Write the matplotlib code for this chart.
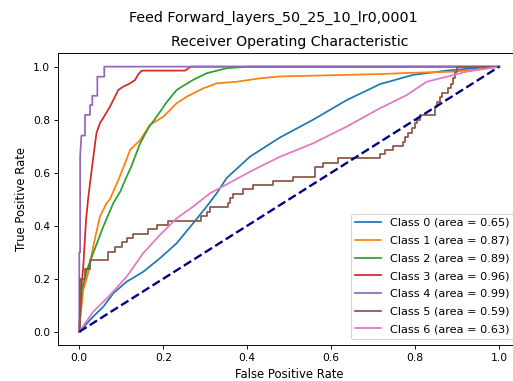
import matplotlib
matplotlib.use("Agg")
import matplotlib.pyplot as plt

# ROC points (false positive rate, true positive rate) per class
fpr_0 = [0.0, 0.033, 0.057, 0.081, 0.113, 0.152, 0.192, 0.232, 0.271, 0.303, 0.327, 0.351,
         0.406, 0.478, 0.557, 0.637, 0.716, 0.795, 0.875, 0.938, 1.0]
tpr_0 = [0.0, 0.057, 0.094, 0.145, 0.189, 0.226, 0.277, 0.334, 0.409, 0.472, 0.522, 0.580,
         0.660, 0.733, 0.800, 0.874, 0.934, 0.969, 0.985, 0.994, 1.0]

fpr_1 = [0.0, 0.002, 0.0095, 0.021, 0.033, 0.049, 0.065, 0.073, 0.093, 0.11, 0.121, 0.145,
         0.168, 0.2, 0.232, 0.256, 0.295, 0.327, 0.375, 0.43, 0.478, 0.637, 0.716, 0.795,
         0.89, 0.954, 1.0]
tpr_1 = [0.0, 0.044, 0.157, 0.22, 0.32, 0.434, 0.485, 0.5, 0.572, 0.64, 0.686, 0.723,
         0.78, 0.811, 0.862, 0.887, 0.918, 0.937, 0.943, 0.956, 0.963, 0.969, 0.972, 0.977,
         0.981, 0.99, 1.0]

fpr_2 = [0.0, 0.002, 0.006, 0.018, 0.033, 0.057, 0.081, 0.098, 0.109, 0.123, 0.145, 0.165,
         0.184, 0.21, 0.232, 0.25, 0.271, 0.303, 0.351, 0.399, 1.0]
tpr_2 = [0.0, 0.05, 0.157, 0.232, 0.296, 0.396, 0.485, 0.53, 0.572, 0.62, 0.711, 0.77,
         0.811, 0.87, 0.912, 0.93, 0.95, 0.975, 0.994, 1.0, 1.0]

fpr_3 = [0.0, 0.002, 0.005, 0.0095, 0.016, 0.021, 0.0295, 0.036, 0.041, 0.05, 0.057, 0.073,
         0.083, 0.093, 0.105, 0.121, 0.133, 0.14, 0.149, 0.252, 0.26, 0.265, 1.0]
tpr_3 = [0.0, 0.1, 0.17, 0.245, 0.42, 0.5, 0.61, 0.69, 0.75, 0.79, 0.806, 0.849,
         0.88, 0.912, 0.925, 0.937, 0.95, 0.97, 0.985, 0.985, 0.994, 1.0, 1.0]

fpr_4 = [0.0, 0.0, 0.002, 0.002, 0.005, 0.0136, 0.0136, 0.0255, 0.0255, 0.031, 0.031,
         0.043, 0.043, 0.0595, 0.0595, 1.0]
tpr_4 = [0.0, 0.30, 0.30, 0.66, 0.74, 0.74, 0.818, 0.818, 0.855, 0.855, 0.89,
         0.89, 0.962, 0.962, 1.0, 1.0]

# class 5 is a staircase: each level holds from its fpr to the next one
fpr_5 = [0.0, 0.0017, 0.0136, 0.0255, 0.069, 0.085, 0.101, 0.113, 0.129, 0.164, 0.184,
         0.212, 0.291, 0.303, 0.311, 0.355, 0.359, 0.365, 0.39, 0.414, 0.462, 0.51, 0.561,
         0.581, 0.617, 0.716, 0.728, 0.748, 0.771, 0.775, 0.783, 0.791, 0.799, 0.803, 0.811,
         0.847, 0.851, 0.859, 0.863, 0.879, 0.884, 0.89, 0.894, 0.90, 1.0]
tpr_5 = [0.0, 0.2, 0.235, 0.27, 0.302, 0.32, 0.337, 0.352, 0.369, 0.386, 0.403,
         0.419, 0.437, 0.453, 0.469, 0.487, 0.503, 0.52, 0.537, 0.554, 0.569, 0.585, 0.62,
         0.635, 0.654, 0.669, 0.686, 0.70, 0.717, 0.733, 0.751, 0.767, 0.786, 0.80, 0.818,
         0.849, 0.868, 0.885, 0.902, 0.918, 0.935, 0.956, 0.981, 1.0, 1.0]

fpr_6 = [0.0, 0.033, 0.073, 0.113, 0.152, 0.192, 0.232, 0.271, 0.311, 0.351, 0.414,
         0.478, 0.557, 0.637, 0.716, 0.78, 0.827, 0.875, 0.922, 1.0]
tpr_6 = [0.0, 0.075, 0.138, 0.208, 0.296, 0.365, 0.428, 0.472, 0.522, 0.556, 0.61,
         0.66, 0.711, 0.774, 0.843, 0.893, 0.943, 0.962, 0.981, 1.0]

class_names = ["Class 0", "Class 1", "Class 2", "Class 3", "Class 4", "Class 5", "Class 6"]
roc_auc = [0.65, 0.87, 0.89, 0.96, 0.99, 0.59, 0.63]
fprs = [fpr_0, fpr_1, fpr_2, fpr_3, fpr_4, fpr_5, fpr_6]
tprs = [tpr_0, tpr_1, tpr_2, tpr_3, tpr_4, tpr_5, tpr_6]

dpi = 84
fig = plt.figure(figsize=(513 / dpi, 381 / dpi), dpi=dpi)
ax = fig.add_axes([0.1136, 0.0945, 0.9006, 0.7654])

for i, (fpr, tpr) in enumerate(zip(fprs, tprs)):
    style = "steps-post" if i == 5 else "default"
    ax.plot(fpr, tpr, color=f"C{i}", lw=1.5, drawstyle=style,
            label=f"{class_names[i]} (area = {roc_auc[i]:.2f})")

ax.plot([0, 1], [0, 1], color="navy", lw=2, linestyle="--")

ax.set_xlim(-0.05, 1.05)
ax.set_ylim(-0.05, 1.05)
ax.set_xticks([0.0, 0.2, 0.4, 0.6, 0.8, 1.0])
ax.set_yticks([0.0, 0.2, 0.4, 0.6, 0.8, 1.0])
ax.tick_params(labelsize=9.2)
ax.set_xlabel("False Positive Rate", fontsize=10)
ax.set_ylabel("True Positive Rate", fontsize=10)
ax.set_title("Receiver Operating Characteristic", fontsize=12)
ax.legend(loc="lower right", fontsize=9.6, labelspacing=0.69, handlelength=2.3,
          borderaxespad=0.55)

fig.suptitle("Feed Forward_layers_50_25_10_lr0,0001", x=273 / 513, y=1 - 10.5 / 381,
             va="top", fontsize=12.2)

fig.savefig("out.png", dpi=dpi)
